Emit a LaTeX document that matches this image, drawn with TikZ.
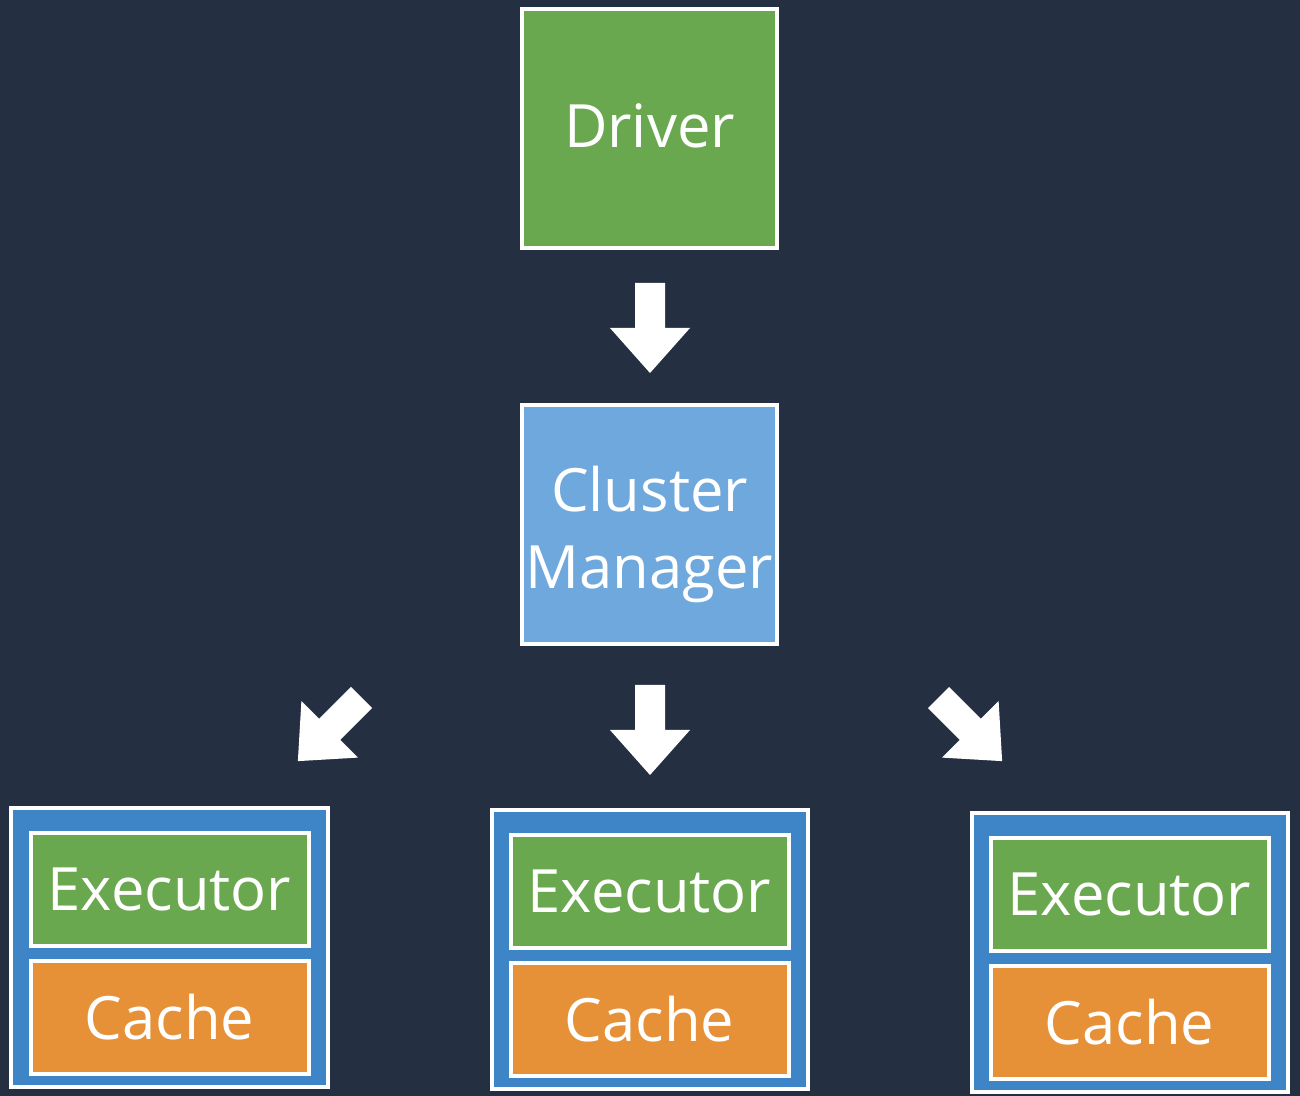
\documentclass[tikz,border=0pt]{standalone}
\usepackage{fontspec}
\setmainfont{Open Sans}
\usetikzlibrary{positioning}
\definecolor{bgcol}{HTML}{243042}
\definecolor{drvgreen}{HTML}{6AA84F}
\definecolor{cmblue}{HTML}{6FA8DC}
\definecolor{grpblue}{HTML}{3D85C6}
\definecolor{cacheorange}{HTML}{E69138}
\tikzset{
  box/.style={draw=white,line width=0.08cm,text=white,outer sep=0pt,inner sep=0pt,
    align=center,font=\fontsize{34pt}{40pt}\selectfont},
  bigbox/.style={box,minimum width=5.1cm,minimum height=4.78cm},
  grpbox/.style={draw=white,line width=0.08cm,fill=grpblue,outer sep=0pt,
    minimum width=6.32cm,minimum height=5.58cm},
  execbox/.style={box,fill=drvgreen,minimum width=5.56cm,minimum height=2.26cm},
  cachebox/.style={box,fill=cacheorange,minimum width=5.56cm,minimum height=2.26cm},
  blockarrow/.pic={
    \fill[white] (0,0.3) -- (0.9,0.3) -- (0.9,0.8) -- (1.8,0) -- (0.9,-0.8)
      -- (0.9,-0.3) -- (0,-0.3) -- cycle;
  }
}
\begin{document}
\begin{tikzpicture}[node distance=3.13cm]
  \fill[bgcol] (0,0) rectangle (26,-21.92);
  \useasboundingbox (0,0) rectangle (26,-21.92);
  \node[bigbox,fill=drvgreen,text depth=0.14cm] (drv) at (12.99,-2.58) {Driver};
  \node[bigbox,fill=cmblue] (cm) [below=of drv] {\rule{0pt}{1.3cm}Cluster\\[4pt]Manager};
  % worker groups
  \node[grpbox] (grpM) [below=3.32cm of cm] {};
  \node[grpbox] (grpL) [left=3.28cm of grpM,yshift=0.04cm] {};
  \node[grpbox] (grpR) [right=3.28cm of grpM,yshift=-0.05cm] {};
  \foreach \g in {L,M,R} {
    \node[execbox] (exec\g) [below=0.5cm of grp\g.north] {Executor};
    \node[cachebox] (cache\g) [below=0.3cm of exec\g] {Cache};
  }
  \pic[rotate=-90] at (13,-5.66) {blockarrow};
  \pic[rotate=-90] at (13,-13.7) {blockarrow};
  \pic[rotate=-135] at (7.23,-13.95) {blockarrow};
  \pic[rotate=-45] at (18.77,-13.95) {blockarrow};
\end{tikzpicture}
\end{document}
